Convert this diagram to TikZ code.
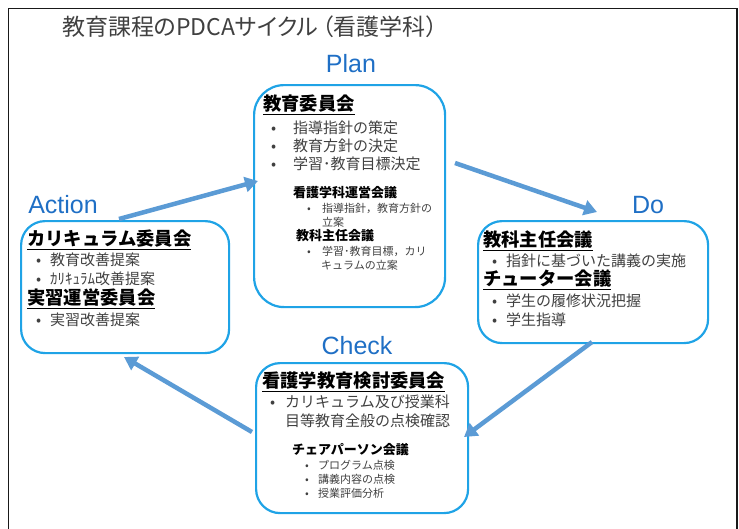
\documentclass[tikz,border=0pt]{standalone}
\usepackage{fontspec}
\setmainfont{Noto Sans CJK JP}
\newfontfamily\latfont{Liberation Sans}
\newfontfamily\titlefont[RawFeature=+palt]{Noto Sans CJK JP}
\usetikzlibrary{arrows.meta}
\definecolor{boxblue}{HTML}{1FA3E6}
\definecolor{arrblue}{HTML}{5B9BD5}
\definecolor{lblblue}{HTML}{1F6FC5}
\definecolor{txtgray}{HTML}{404040}
\tikzset{
  box/.style={draw=boxblue, line width=2.2pt, rounded corners=24pt, anchor=north west, inner sep=0pt},
  hd/.style={anchor=west, inner sep=0pt, font=\fontsize{18.3}{19}\selectfont\bfseries},
  it/.style={anchor=west, inner sep=0pt, text=txtgray, font=\fontsize{15}{16}\selectfont},
  sh/.style={anchor=west, inner sep=0pt, font=\fontsize{13}{14}\selectfont\bfseries},
  si/.style={anchor=west, inner sep=0pt, text=txtgray, font=\fontsize{11}{12}\selectfont},
  lbl/.style={inner sep=0pt, text=lblblue, font=\latfont\fontsize{25}{26}\selectfont},
  arr/.style={draw=arrblue, line width=4.5pt, -{Triangle[length=13pt,width=15pt]}},
}
\begin{document}
\begin{tikzpicture}[x=1pt,y=-1pt]
\useasboundingbox (0,0) rectangle (739,528);
\draw[line width=1.6pt, black!90] (8.5,530) -- (8.5,8.5) -- (737,8.5) -- (737,530);
% title
\node[anchor=west, inner sep=0pt, text=txtgray, font=\titlefont\fontsize{23}{24}\selectfont] (title) at (62,27) {教育課程のPDCAサイクル\hspace{4pt}（看護学科）};
% labels
\node[lbl] (lplan) at (351,64) {Plan};
\node[lbl] (lact) at (63,205) {Action};
\node[lbl] (ldo) at (648,205) {Do};
\node[lbl] (lchk) at (357,346) {Check};
% boxes
\node[box, rounded corners=30pt, minimum width=191pt, minimum height=222pt] (plan) at (253,84) {};
\node[box, minimum width=208pt, minimum height=132pt] (act) at (20,220) {};
\node[box, minimum width=230pt, minimum height=122pt] (do) at (477,220) {};
\node[box, minimum width=212pt, minimum height=150pt] (chk) at (255,362) {};
% plan text
\node[hd] (p0) at (263,105) {\underline{教育委員会}};
\node[it] (p1) at (271,128) {\makebox[22pt][l]{•}指導指針の策定};
\node[it] (p2) at (271,146) {\makebox[22pt][l]{•}教育方針の決定};
\node[it] (p3) at (271,164) {\makebox[22pt][l]{•}学習･教育目標決定};
\node[sh] (p4) at (293,193) {看護学科運営会議};
\node[si] (p5) at (307,208) {\makebox[15pt][l]{•}指導指針，教育方針の};
\node[si] (p6) at (322,222) {立案};
\node[sh] (p7) at (296,236) {教科主任会議};
\node[si] (p8) at (307,251) {\makebox[15pt][l]{•}学習･教育目標，カリ};
\node[si] (p9) at (321,265) {キュラムの立案};
% action text
\node[hd] (a0) at (27,240) {\underline{カリキュラム委員会}};
\node[it] (a1) at (36,260) {\makebox[14pt][l]{•}教育改善提案};
\node[it] (a2) at (36,279) {\makebox[14pt][l]{•}ｶﾘｷｭﾗﾑ改善提案};
\node[hd] (a3) at (27,299) {\underline{実習運営委員会}};
\node[it] (a4) at (36,320) {\makebox[14pt][l]{•}実習改善提案};
% do text
\node[hd] (d0) at (483,241) {\underline{教科主任会議}};
\node[it] (d1) at (492,261) {\makebox[14pt][l]{•}指針に基づいた講義の実施};
\node[hd] (d2) at (483,280) {\underline{チューター会議}};
\node[it] (d3) at (492,301) {\makebox[14pt][l]{•}学生の履修状況把握};
\node[it] (d4) at (492,320) {\makebox[14pt][l]{•}学生指導};
% check text
\node[hd] (c0) at (262,382) {\underline{看護学教育検討委員会}};
\node[it] (c1) at (270,402) {\makebox[15pt][l]{•}カリキュラム及び授業科};
\node[it] (c2) at (285,421) {目等教育全般の点検確認};
\node[sh] (c3) at (292,450) {チェアパーソン会議};
\node[si] (c4) at (305,465) {\makebox[13pt][l]{•}プログラム点検};
\node[si] (c5) at (305,479) {\makebox[13pt][l]{•}講義内容の点検};
\node[si] (c6) at (305,493) {\makebox[13pt][l]{•}授業評価分析};
% arrows
\coordinate (ap1) at (119,219);
\coordinate (ap2) at (258,181);
\coordinate (pd1) at (455,163);
\coordinate (pd2) at (597,212);
\coordinate (dc1) at (592,342);
\coordinate (dc2) at (464,437);
\coordinate (ca1) at (252,432);
\coordinate (ca2) at (124,357);
\draw[arr] (ap1) -- (ap2);
\draw[arr] (pd1) -- (pd2);
\draw[arr] (dc1) -- (dc2);
\draw[arr] (ca1) -- (ca2);
\end{tikzpicture}
\end{document}
